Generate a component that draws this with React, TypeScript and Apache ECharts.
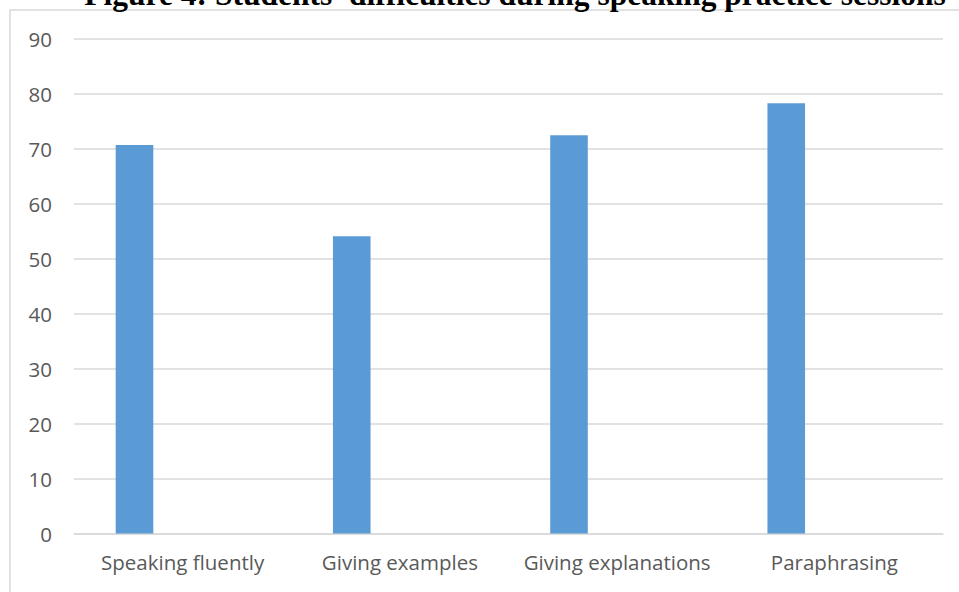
import React, { useEffect, useRef } from "react";
import * as echarts from "echarts";

const categories = ["Speaking fluently", "Giving examples", "Giving explanations", "Paraphrasing"];
const seriesValues = [70.7, 54.1, 72.5, 78.3];
const emptySeries = [null, null, null, null];
const yTicks = { min: 0, max: 90, interval: 10 };
const titleText = "Figure 4: Students' difficulties during speaking practice sessions";

export default function App() {
  const ref = useRef<HTMLDivElement>(null);
  useEffect(() => {
    document.body.style.margin = "0";
    const chart = echarts.init(ref.current!, null, { renderer: "svg" });
    chart.setOption({
      animation: false,
      backgroundColor: "#ffffff",
      grid: { left: 74, right: 16, top: 39, bottom: 58.5 },
      xAxis: {
        type: "category",
        data: categories,
        axisLine: { show: true, lineStyle: { color: "#d9d9d9", width: 1.5 } },
        axisTick: { show: false },
        axisLabel: {
          color: "#595959",
          fontFamily: "Open Sans",
          fontSize: 20.5,
          margin: 18,
          interval: 0,
          hideOverlap: false,
        },
      },
      yAxis: {
        type: "value",
        min: yTicks.min,
        max: yTicks.max,
        interval: yTicks.interval,
        axisLine: { show: false },
        axisTick: { show: false },
        splitLine: { lineStyle: { color: "#d9d9d9", width: 1.5 } },
        axisLabel: { color: "#595959", fontFamily: "Open Sans", fontSize: 20.5, margin: 22 },
      },
      series: [
        {
          type: "bar",
          data: seriesValues,
          barWidth: 37.6,
          barGap: "156%",
          itemStyle: { color: "#5b9bd5" },
        },
        {
          type: "bar",
          data: emptySeries,
          barWidth: 37.6,
          itemStyle: { color: "#ed7d31" },
        },
      ],
      graphic: [
        {
          type: "rect",
          shape: { x: 10, y: 10, width: 980, height: 620 },
          style: { fill: "none", stroke: "#d9d9d9", lineWidth: 1.5 },
          silent: true,
        },
        {
          type: "text",
          x: 515,
          y: 10,
          style: {
            text: titleText,
            font: "bold 31.5px 'Liberation Serif'",
            fill: "#000000",
            textAlign: "center",
            textVerticalAlign: "bottom",
          },
        },
      ],
    });
    return () => chart.dispose();
  }, []);
  return <div ref={ref} style={{ position: "fixed", left: 0, top: 0, width: 959, height: 592 }} />;
}
